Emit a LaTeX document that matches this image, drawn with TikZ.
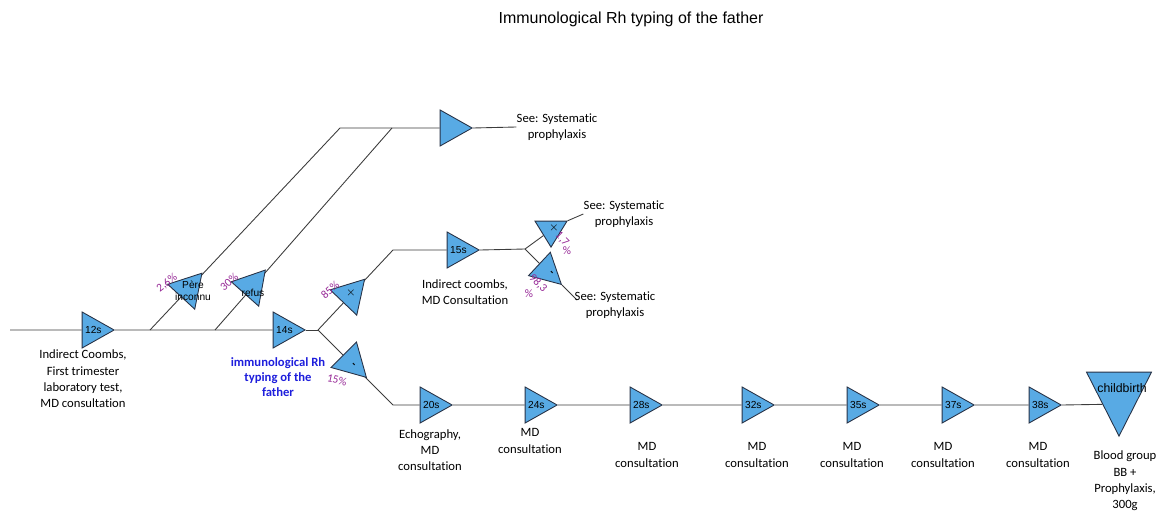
\documentclass[tikz,border=0pt]{standalone}
\usepackage{fontspec}
\setmainfont{Carlito}[Ligatures=NoCommon]
\newfontfamily\arialfont{Liberation Sans}
\usetikzlibrary{shapes.geometric,backgrounds}
\definecolor{trifill}{RGB}{88,170,228}
\definecolor{triline}{RGB}{40,50,70}
\definecolor{pct}{RGB}{150,40,150}
\definecolor{rhblue}{RGB}{30,30,220}
\definecolor{wirec}{RGB}{60,60,60}
\tikzset{
  tri/.style={isosceles triangle, isosceles triangle apex angle=60,
    isosceles triangle stretches, minimum height=0.64cm, minimum width=0.72cm,
    inner sep=0pt, draw=triline, fill=trifill, line width=0.5pt,
    font=\arialfont\fontsize{5.8}{7}\selectfont},
  wire/.style={draw=wirec, line width=0.5pt},
  lbl/.style={align=center, inner sep=0pt, font=\fontsize{7.2}{9.3}\selectfont},
  pc/.style={text=pct, inner sep=0pt, font=\fontsize{6.5}{7}\selectfont},
  sign/.style={inner sep=0pt, font=\fontsize{6}{6}\selectfont\bfseries},
  intxt/.style={align=center, inner sep=0pt, font=\arialfont\fontsize{5.8}{6.8}\selectfont},
}
\begin{document}
\begin{tikzpicture}[x=0.02cm, y=-0.02cm]
  \useasboundingbox (0,0) rectangle (1162,513);
  \node[font=\arialfont\fontsize{9.1}{11}\selectfont, inner sep=0pt] (title) at (631,19) {Immunological Rh typing of the father};

  % forks and bends
  \coordinate (start) at (10,330);
  \coordinate (fork1) at (150,330);
  \coordinate (fork2) at (215,330);
  \coordinate (split) at (318,330);
  \coordinate (bend1) at (340,128);
  \coordinate (bend2) at (392,128);
  \coordinate (up) at (393,250);
  \coordinate (down) at (393,405);
  \coordinate (split2) at (525,249);
  \coordinate (endC) at (577,300);

  % main line
  \node[tri, anchor=apex] (t12) at (115,330) {12s};
  \node[tri, anchor=apex] (t14) at (306,330) {14s};
  \node[lbl] (l12) at (83,379) {Indirect Coombs,\\First trimester\\laboratory test,\\MD consultation};
  \node[lbl, text=rhblue, font=\fontsize{7.2}{8.6}\selectfont\bfseries] (l14) at (278,377) {immunological Rh\\typing of the\\father};

  % pere inconnu / refus
  \node[tri, rotate=-72, anchor=apex] (tpere) at (195,310) {};
  \node[intxt] (pere) at (193,291) {Père\\inconnu};
  \node[pc, rotate=37] (p26) at (167,283) {2,6\%};
  \node[tri, rotate=-71, anchor=apex] (tref) at (259,307) {};
  \node[intxt] (refus) at (253,293) {refus};
  \node[pc, rotate=41] (p30) at (229,282) {30\%};
  \node[tri, anchor=apex] (ttop) at (473,128) {};
  \node[lbl] (seeA) at (557,127) {See: Systematic\\prophylaxis};

  % after 14s
  \node[tri, rotate=-73, anchor=apex] (tpos) at (357,316) {};
  \node[sign] (xpos) at (351,293) {$\times$};
  \node[pc, rotate=41] (p85) at (330,290) {85\%};
  \node[tri, rotate=-45, anchor=apex] (tneg) at (367,378) {};
  \node[sign, rotate=-45] (xneg) at (353,365) {-};
  \node[pc, rotate=-12] (p15) at (337,380) {15\%};

  % upper branch
  \node[tri, anchor=apex] (t15) at (480,250) {15s};
  \node[lbl] (l15) at (465,292) {Indirect coombs,\\MD Consultation};
  \node[tri, minimum height=0.52cm, minimum width=0.64cm, rotate=-90, anchor=apex] (tpos2) at (551,248) {};
  \node[sign] (xpos2) at (554,228) {$\times$};
  \node[pc, rotate=-45] (p17) at (562,239) {1,7};
  \node[pc] (p17b) at (567,251) {\%};
  \node[lbl] (seeB) at (624,214) {See: Systematic\\prophylaxis};
  \node[tri, minimum height=0.6cm, minimum width=0.64cm, rotate=-43, anchor=apex] (tneg2) at (562,285) {};
  \node[sign, rotate=-45] (xneg2) at (551,273) {-};
  \node[pc, rotate=-45] (p98) at (538,283) {98,3};
  \node[pc] (p98b) at (529,294) {\%};
  \node[lbl] (seeC) at (615,305) {See: Systematic\\prophylaxis};

  % lower branch
  \node[tri, anchor=apex] (t20) at (453,405) {20s};
  \node[tri, anchor=apex] (t24) at (558,405) {24s};
  \node[tri, anchor=apex] (t28) at (663,405) {28s};
  \node[tri, anchor=apex] (t32) at (775,405) {32s};
  \node[tri, anchor=apex] (t35) at (880,405) {35s};
  \node[tri, anchor=apex] (t37) at (975,405) {37s};
  \node[tri, anchor=apex] (t38) at (1062,405) {38s};
  \node[tri, minimum height=1.28cm, minimum width=1.3cm, rotate=-90, anchor=apex] (tcb) at (1119,437) {};
  \node[font=\arialfont\fontsize{7}{8}\selectfont, inner sep=0pt] (cb) at (1122,388) {childbirth};

  \node[lbl] (l20) at (430,450) {Echography,\\MD\\consultation};
  \node[lbl] (l24) at (530,441) {MD\\consultation};
  \node[lbl] (l28) at (647,455) {MD\\consultation};
  \node[lbl] (l32) at (757,455) {MD\\consultation};
  \node[lbl] (l35) at (852,455) {MD\\consultation};
  \node[lbl] (l37) at (943,455) {MD\\consultation};
  \node[lbl] (l38) at (1038,455) {MD\\consultation};
  \node[lbl] (lcb) at (1125,481) {Blood group\\BB +\\Prophylaxis,\\300g};

  \begin{scope}[on background layer]
    \draw[wire] (start) -- (t12);
    \draw[wire] (t12.apex) -- (t14);
    \draw[wire] (fork1) -- (bend1) -- (ttop);
    \draw[wire] (fork2) -- (bend2);
    \draw[wire] (ttop.apex) -- (seeA.west);
    \draw[wire] (t14.apex) -- (split);
    \draw[wire] (split) -- (up) -- (t15);
    \draw[wire] (split) -- (down) -- (t20);
    \draw[wire] (t15.apex) -- (split2);
    \draw[wire] (split2) -- (tpos2);
    \draw[wire] (tpos2.left corner) -- (seeB.west);
    \draw[wire] (split2) -- (tneg2);
    \draw[wire] (tneg2.apex) -- (endC);
    \draw[wire] (t20.apex) -- (t24);
    \draw[wire] (t24.apex) -- (t28);
    \draw[wire] (t28.apex) -- (t32);
    \draw[wire] (t32.apex) -- (t35);
    \draw[wire] (t35.apex) -- (t37);
    \draw[wire] (t37.apex) -- (t38);
    \draw[wire] (t38.apex) -- (tcb.right side);
  \end{scope}
\end{tikzpicture}
\end{document}
